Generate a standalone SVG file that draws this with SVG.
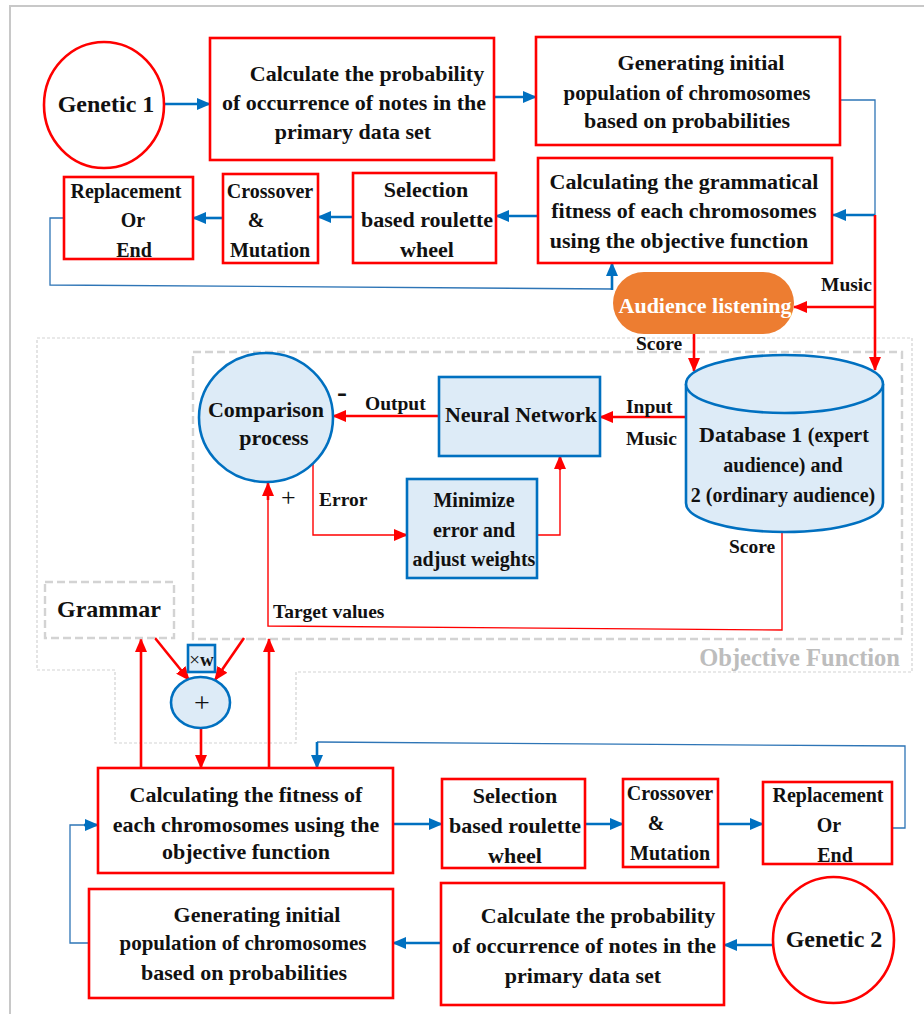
<svg xmlns="http://www.w3.org/2000/svg" width="924" height="1014" viewBox="0 0 924 1014">
<defs>
<style>
text{font-family:"Liberation Serif","Times New Roman",serif;font-weight:bold;fill:#111;}
.t22{font-size:22px;text-anchor:middle;}
.t20{font-size:20px;text-anchor:middle;}
.lbl{font-size:19.5px;}
.rbox{fill:#fff;stroke:#FF0000;stroke-width:2.6;}
.bbox{fill:#DDEBF7;stroke:#0070C0;stroke-width:2.6;}
.dash{fill:none;stroke:#D3D3D3;stroke-width:2.4;stroke-dasharray:8 4;}
.dot{fill:none;stroke:#D3D3D3;stroke-width:1.2;stroke-dasharray:3 2;}
.ba{fill:none;stroke:#0070C0;stroke-width:2.6;marker-end:url(#ab);}
.bt{fill:none;stroke:#2E75B6;stroke-width:1.3;}
.ra{fill:none;stroke:#FF0000;stroke-width:2.6;marker-end:url(#ar);}
.rt{fill:none;stroke:#FF0000;stroke-width:1.4;}
</style>
<marker id="ab" markerUnits="userSpaceOnUse" markerWidth="14" markerHeight="12" refX="13" refY="6" orient="auto"><path d="M0,0 L14,6 L0,12 z" fill="#0070C0"/></marker>
<marker id="ar" markerUnits="userSpaceOnUse" markerWidth="14" markerHeight="12" refX="13" refY="6" orient="auto"><path d="M0,0 L14,6 L0,12 z" fill="#FF0000"/></marker>
</defs>
<rect x="0" y="0" width="924" height="1014" fill="#fff"/>
<rect x="10" y="6" width="930" height="1020" fill="none" stroke="#C8C8C8" stroke-width="2"/>

<g id="objective-function">
<path class="dot" d="M37,338 H912 V672 H296 V743 H115 V670 H37 Z"/>
<rect class="dash" x="193" y="352" width="709" height="287"/>
<text x="900" y="666" style="font-size:24.5px;text-anchor:end;fill:#BDBDBD;font-weight:bold">Objective Function</text>
</g>

<g id="connectors">
<line class="ba" x1="164" y1="104" x2="210" y2="104"/>
<line class="ba" x1="494" y1="97" x2="536" y2="97"/>
<path class="bt" d="M840,100 H875 V215"/>
<line class="ba" x1="875" y1="215" x2="833" y2="215"/>
<line class="ba" x1="538" y1="216" x2="496" y2="216"/>
<line class="ba" x1="353" y1="217" x2="318" y2="217"/>
<line class="ba" x1="223" y1="218" x2="193" y2="218"/>
<path class="bt" d="M64,218 H50 V285 L612,289"/>
<line class="ba" x1="612" y1="290" x2="612" y2="263"/>
<line class="ra" x1="875" y1="215" x2="875" y2="370"/>
<line class="ra" x1="875" y1="307" x2="794" y2="307"/>
<line class="ra" x1="694" y1="334" x2="694" y2="371"/>
<line class="ra" x1="686" y1="417" x2="600" y2="417"/>
<line class="ra" x1="439" y1="416" x2="333" y2="416"/>
<path class="rt" d="M313,463 V535 H395"/>
<line class="ra" x1="395" y1="535" x2="407" y2="535"/>
<path class="rt" d="M537,535 H560 V470"/>
<line class="ra" x1="560" y1="470" x2="560" y2="456"/>
<path class="rt" d="M782,532 V630 L268,626 V500"/>
<line class="ra" x1="268" y1="500" x2="268" y2="483"/>
<line class="ra" x1="155" y1="638" x2="189" y2="680"/>
<line class="ra" x1="244" y1="638" x2="215" y2="680"/>
<line class="ra" x1="141" y1="768" x2="141" y2="639"/>
<line class="ra" x1="269" y1="768" x2="269" y2="639"/>
<line class="ra" x1="201" y1="728" x2="201" y2="768"/>
<path class="bt" d="M892,828 H905 V746 L317,742"/>
<line class="ba" x1="317" y1="742" x2="317" y2="768"/>
<line class="ba" x1="393" y1="824" x2="442" y2="824"/>
<line class="ba" x1="585" y1="824" x2="623" y2="824"/>
<line class="ba" x1="718" y1="824" x2="763" y2="824"/>
<line class="ba" x1="773" y1="945" x2="724" y2="945"/>
<line class="ba" x1="441" y1="943" x2="393" y2="943"/>
<path class="bt" d="M89,943 H70 V825 H84"/>
<line class="ba" x1="84" y1="825" x2="98" y2="825"/>
</g>

<g id="labels">
<text class="lbl" x="821" y="291">Music</text>
<text class="lbl" x="636" y="350">Score</text>
<text class="lbl" x="365" y="410">Output</text>
<text class="lbl" x="626" y="413">Input</text>
<text class="lbl" x="626" y="445">Music</text>
<text class="lbl" x="319" y="506">Error</text>
<text class="lbl" x="729" y="553">Score</text>
<text class="lbl" x="273" y="618">Target values</text>
<text x="337" y="402" style="font-size:30px">-</text>
<text x="281" y="506" style="font-size:26px;font-weight:normal">+</text>
</g>

<g id="genetic1">
<ellipse cx="104" cy="105" rx="60" ry="63" fill="#fff" stroke="#FF0000" stroke-width="2.6"/>
<text x="106" y="112" style="font-size:24px;text-anchor:middle">Genetic 1</text>
</g>

<g id="calc-prob-1">
<rect class="rbox" x="210" y="38" width="284" height="122"/>
<text class="t22" x="367" y="81">Calculate the probability</text>
<text class="t22" x="354" y="110">of occurrence of notes in the</text>
<text class="t22" x="353" y="139">primary data set</text>
</g>

<g id="gen-init-1">
<rect class="rbox" x="536" y="37" width="304" height="108"/>
<text class="t22" x="701" y="70">Generating initial</text>
<text class="t20" x="687" y="100" style="font-size:21px">population of chromosomes</text>
<text class="t22" x="687" y="128">based on probabilities</text>
</g>

<g id="grammatical-fitness">
<rect class="rbox" x="538" y="158" width="294" height="105"/>
<text class="t22" x="684" y="189">Calculating the grammatical</text>
<text class="t22" x="684" y="218">fitness of each chromosomes</text>
<text class="t22" x="679" y="248">using the objective function</text>
</g>

<g id="selection-1">
<rect class="rbox" x="353" y="173" width="143" height="90"/>
<text class="t22" x="426" y="197">Selection</text>
<text class="t22" x="427" y="227">based roulette</text>
<text class="t22" x="427" y="257">wheel</text>
</g>

<g id="crossover-1">
<rect class="rbox" x="223" y="174" width="95" height="89"/>
<text class="t20" x="270" y="198">Crossover</text>
<text class="t20" x="256" y="227">&amp;</text>
<text class="t20" x="270" y="257">Mutation</text>
</g>

<g id="replacement-1">
<rect class="rbox" x="64" y="177" width="129" height="82"/>
<text class="t20" x="126" y="198">Replacement</text>
<text class="t20" x="133" y="227">Or</text>
<text class="t20" x="134" y="257">End</text>
</g>

<g id="audience">
<rect x="613" y="272" width="181" height="62" rx="31" fill="#ED7D31"/>
<text class="t22" x="705" y="313" style="fill:#fff">Audience listening</text>
</g>

<g id="database">
<path d="M686,384 V503 A98.5,29 0 0 0 883,503 V384" fill="#DDEBF7" stroke="#0070C0" stroke-width="2.6"/>
<ellipse cx="784.5" cy="384" rx="98.5" ry="29" fill="#DDEBF7" stroke="#0070C0" stroke-width="2.6"/>
<text x="699" y="442" style="font-size:22px">Database 1 <tspan style="font-size:20px">(expert</tspan></text>
<text class="t20" x="783" y="472">audience) and</text>
<text class="t20" x="783" y="502">2 (ordinary audience)</text>
</g>

<g id="comparison">
<ellipse cx="266" cy="417.5" rx="67" ry="64.5" fill="#DDEBF7" stroke="#0070C0" stroke-width="2.6"/>
<text class="t22" x="266" y="417">Comparison</text>
<text class="t22" x="274" y="445">process</text>
</g>

<g id="neural-network">
<rect class="bbox" x="439" y="377" width="161" height="79"/>
<text class="t22" x="521" y="422">Neural Network</text>
</g>

<g id="minimize">
<rect class="bbox" x="407" y="479" width="130" height="99"/>
<text class="t20" x="474" y="507">Minimize</text>
<text class="t20" x="474" y="537">error and</text>
<text class="t20" x="474" y="566">adjust weights</text>
</g>

<g id="grammar">
<rect class="dash" x="45" y="582" width="129" height="56"/>
<text x="109" y="617" style="font-size:24px;text-anchor:middle">Grammar</text>
</g>

<g id="weight">
<rect class="bbox" x="188" y="645" width="27" height="27"/>
<text x="201.5" y="666" style="font-size:19px;text-anchor:middle"><tspan style="font-weight:normal">×</tspan>w</text>
</g>

<g id="sum">
<ellipse cx="200.5" cy="702.5" rx="29.5" ry="25.5" fill="#DDEBF7" stroke="#0070C0" stroke-width="2.6"/>
<text x="202" y="712" style="font-size:28px;font-weight:normal;text-anchor:middle">+</text>
</g>

<g id="calc-fitness-2">
<rect class="rbox" x="98" y="768" width="295" height="105"/>
<text class="t22" x="246" y="802">Calculating the fitness of</text>
<text class="t22" x="246" y="832">each chromosomes using the</text>
<text class="t22" x="246" y="859">objective function</text>
</g>

<g id="selection-2">
<rect class="rbox" x="442" y="779" width="143" height="89"/>
<text class="t22" x="515" y="803">Selection</text>
<text class="t22" x="515" y="833">based roulette</text>
<text class="t22" x="515" y="863">wheel</text>
</g>

<g id="crossover-2">
<rect class="rbox" x="623" y="779" width="95" height="88"/>
<text class="t20" x="670" y="800">Crossover</text>
<text class="t20" x="656" y="830">&amp;</text>
<text class="t20" x="670" y="860">Mutation</text>
</g>

<g id="replacement-2">
<rect class="rbox" x="763" y="782" width="129" height="82"/>
<text class="t20" x="828" y="802">Replacement</text>
<text class="t20" x="829" y="832">Or</text>
<text class="t20" x="835" y="862">End</text>
</g>

<g id="gen-init-2">
<rect class="rbox" x="89" y="889" width="304" height="109"/>
<text class="t22" x="257" y="922">Generating initial</text>
<text class="t20" x="243" y="950" style="font-size:21px">population of chromosomes</text>
<text class="t22" x="244" y="980">based on probabilities</text>
</g>

<g id="calc-prob-2">
<rect class="rbox" x="441" y="883" width="283" height="122"/>
<text class="t22" x="598" y="923">Calculate the probability</text>
<text class="t22" x="584" y="953">of occurrence of notes in the</text>
<text class="t22" x="583" y="983">primary data set</text>
</g>

<g id="genetic2">
<ellipse cx="833.5" cy="940" rx="60.5" ry="63" fill="#fff" stroke="#FF0000" stroke-width="2.6"/>
<text x="834" y="947" style="font-size:24px;text-anchor:middle">Genetic 2</text>
</g>
</svg>
